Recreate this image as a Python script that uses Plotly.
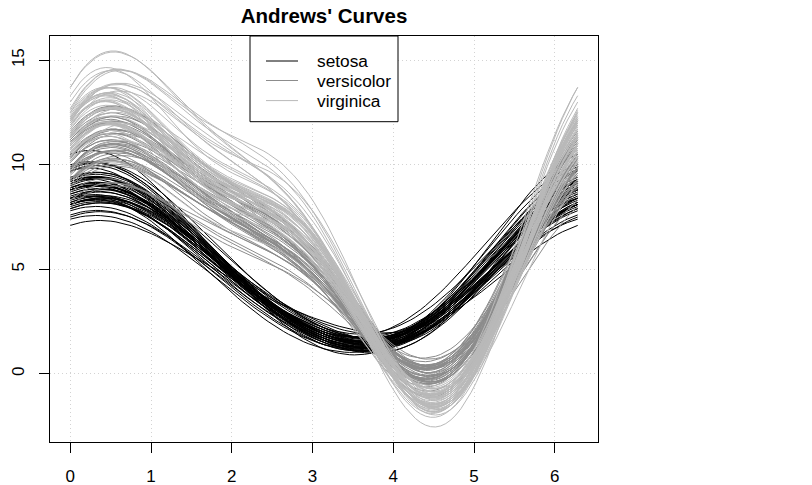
import numpy as np
import plotly.graph_objects as go

# Fisher's iris data (R datasets::iris), columns: Sepal.Length, Sepal.Width, Petal.Length, Petal.Width
sepal_length = [
    5.1, 4.9, 4.7, 4.6, 5.0, 5.4, 4.6, 5.0, 4.4, 4.9, 5.4, 4.8, 4.8, 4.3, 5.8, 5.7, 5.4, 5.1, 5.7, 5.1,
    5.4, 5.1, 4.6, 5.1, 4.8, 5.0, 5.0, 5.2, 5.2, 4.7, 4.8, 5.4, 5.2, 5.5, 4.9, 5.0, 5.5, 4.9, 4.4, 5.1,
    5.0, 4.5, 4.4, 5.0, 5.1, 4.8, 5.1, 4.6, 5.3, 5.0,
    7.0, 6.4, 6.9, 5.5, 6.5, 5.7, 6.3, 4.9, 6.6, 5.2, 5.0, 5.9, 6.0, 6.1, 5.6, 6.7, 5.6, 5.8, 6.2, 5.6,
    5.9, 6.1, 6.3, 6.1, 6.4, 6.6, 6.8, 6.7, 6.0, 5.7, 5.5, 5.5, 5.8, 6.0, 5.4, 6.0, 6.7, 6.3, 5.6, 5.5,
    5.5, 6.1, 5.8, 5.0, 5.6, 5.7, 5.7, 6.2, 5.1, 5.7,
    6.3, 5.8, 7.1, 6.3, 6.5, 7.6, 4.9, 7.3, 6.7, 7.2, 6.5, 6.4, 6.8, 5.7, 5.8, 6.4, 6.5, 7.7, 7.7, 6.0,
    6.9, 5.6, 7.7, 6.3, 6.7, 7.2, 6.2, 6.1, 6.4, 7.2, 7.4, 7.9, 6.4, 6.3, 6.1, 7.7, 6.3, 6.4, 6.0, 6.9,
    6.7, 6.9, 5.8, 6.8, 6.7, 6.7, 6.3, 6.5, 6.2, 5.9,
]
sepal_width = [
    3.5, 3.0, 3.2, 3.1, 3.6, 3.9, 3.4, 3.4, 2.9, 3.1, 3.7, 3.4, 3.0, 3.0, 4.0, 4.4, 3.9, 3.5, 3.8, 3.8,
    3.4, 3.7, 3.6, 3.3, 3.4, 3.0, 3.4, 3.5, 3.4, 3.2, 3.1, 3.4, 4.1, 4.2, 3.1, 3.2, 3.5, 3.6, 3.0, 3.4,
    3.5, 2.3, 3.2, 3.5, 3.8, 3.0, 3.8, 3.2, 3.7, 3.3,
    3.2, 3.2, 3.1, 2.3, 2.8, 2.8, 3.3, 2.4, 2.9, 2.7, 2.0, 3.0, 2.2, 2.9, 2.9, 3.1, 3.0, 2.7, 2.2, 2.5,
    3.2, 2.8, 2.5, 2.8, 2.9, 3.0, 2.8, 3.0, 2.9, 2.6, 2.4, 2.4, 2.7, 2.7, 3.0, 3.4, 3.1, 2.3, 3.0, 2.5,
    2.6, 3.0, 2.6, 2.3, 2.7, 3.0, 2.9, 2.9, 2.5, 2.8,
    3.3, 2.7, 3.0, 2.9, 3.0, 3.0, 2.5, 2.9, 2.5, 3.6, 3.2, 2.7, 3.0, 2.5, 2.8, 3.2, 3.0, 3.8, 2.6, 2.2,
    3.2, 2.8, 2.8, 2.7, 3.3, 3.2, 2.8, 3.0, 2.8, 3.0, 2.8, 3.8, 2.8, 2.8, 2.6, 3.0, 3.4, 3.1, 3.0, 3.1,
    3.1, 3.1, 2.7, 3.2, 3.3, 3.0, 2.5, 3.0, 3.4, 3.0,
]
petal_length = [
    1.4, 1.4, 1.3, 1.5, 1.4, 1.7, 1.4, 1.5, 1.4, 1.5, 1.5, 1.6, 1.4, 1.1, 1.2, 1.5, 1.3, 1.4, 1.7, 1.5,
    1.7, 1.5, 1.0, 1.7, 1.9, 1.6, 1.6, 1.5, 1.4, 1.6, 1.6, 1.5, 1.5, 1.4, 1.5, 1.2, 1.3, 1.4, 1.3, 1.5,
    1.3, 1.3, 1.3, 1.6, 1.9, 1.4, 1.6, 1.4, 1.5, 1.4,
    4.7, 4.5, 4.9, 4.0, 4.6, 4.5, 4.7, 3.3, 4.6, 3.9, 3.5, 4.2, 4.0, 4.7, 3.6, 4.4, 4.5, 4.1, 4.5, 3.9,
    4.8, 4.0, 4.9, 4.7, 4.3, 4.4, 4.8, 5.0, 4.5, 3.5, 3.8, 3.7, 3.9, 5.1, 4.5, 4.5, 4.7, 4.4, 4.1, 4.0,
    4.4, 4.6, 4.0, 3.3, 4.2, 4.2, 4.2, 4.3, 3.0, 4.1,
    6.0, 5.1, 5.9, 5.6, 5.8, 6.6, 4.5, 6.3, 5.8, 6.1, 5.1, 5.3, 5.5, 5.0, 5.1, 5.3, 5.5, 6.7, 6.9, 5.0,
    5.7, 4.9, 6.7, 4.9, 5.7, 6.0, 4.8, 4.9, 5.6, 5.8, 6.1, 6.4, 5.6, 5.1, 5.6, 6.1, 5.6, 5.5, 4.8, 5.4,
    5.6, 5.1, 5.1, 5.9, 5.7, 5.2, 5.0, 5.2, 5.4, 5.1,
]
petal_width = [
    0.2, 0.2, 0.2, 0.2, 0.2, 0.4, 0.3, 0.2, 0.2, 0.1, 0.2, 0.2, 0.1, 0.1, 0.2, 0.4, 0.4, 0.3, 0.3, 0.3,
    0.2, 0.4, 0.2, 0.5, 0.2, 0.2, 0.4, 0.2, 0.2, 0.2, 0.2, 0.4, 0.1, 0.2, 0.2, 0.2, 0.2, 0.1, 0.2, 0.2,
    0.3, 0.3, 0.2, 0.6, 0.4, 0.3, 0.2, 0.2, 0.2, 0.2,
    1.4, 1.5, 1.5, 1.3, 1.5, 1.3, 1.6, 1.0, 1.3, 1.4, 1.0, 1.5, 1.0, 1.4, 1.3, 1.4, 1.5, 1.0, 1.5, 1.1,
    1.8, 1.3, 1.5, 1.2, 1.3, 1.4, 1.4, 1.7, 1.5, 1.0, 1.1, 1.0, 1.2, 1.6, 1.5, 1.6, 1.5, 1.3, 1.3, 1.3,
    1.2, 1.4, 1.2, 1.0, 1.3, 1.2, 1.3, 1.3, 1.1, 1.3,
    2.5, 1.9, 2.1, 1.8, 2.2, 2.1, 1.7, 1.8, 1.8, 2.5, 2.0, 1.9, 2.1, 2.0, 2.4, 2.3, 1.8, 2.2, 2.3, 1.5,
    2.3, 2.0, 2.0, 1.8, 2.1, 1.8, 1.8, 1.8, 2.1, 1.6, 1.9, 2.0, 2.2, 1.5, 1.4, 2.3, 2.4, 1.8, 1.8, 2.1,
    2.4, 2.3, 1.9, 2.3, 2.5, 2.3, 1.9, 2.0, 2.3, 1.8,
]
species = ["setosa"] * 50 + ["versicolor"] * 50 + ["virginica"] * 50
species_names = ["setosa", "versicolor", "virginica"]
species_colors = {"setosa": "#000000", "versicolor": "#8c8c8c", "virginica": "#b9b9b9"}

# Andrews' curves (pracma::andrewsplot style): x1 + x2 cos t + x3 sin t + x4 cos 2t
A = np.column_stack([sepal_length, sepal_width, petal_length, petal_width])
tpts = np.linspace(0, 2 * np.pi, 101)
Y = np.zeros((A.shape[0], tpts.size))
for i in range(A.shape[0]):
    ys = A[i, 0] * np.ones_like(tpts)
    for j in range(2, A.shape[1] + 1):
        k = j // 2
        if j % 2 == 0:
            ys = ys + A[i, j - 1] * np.cos(k * tpts)
        else:
            ys = ys + A[i, j - 1] * np.sin(k * tpts)
    Y[i] = ys

ymin, ymax = Y.min(), Y.max()
ypad = 0.04 * (ymax - ymin)
xpad = 0.04 * (2 * np.pi)

FONT = "Liberation Sans, Arial, Helvetica, sans-serif"
W, H = 812, 485
# plot area in pixels
PL, PT, PW, PH = 50, 36, 548, 406


def px_x(x):
    return (x - PL) / PW


def px_y(y):
    return 1 - (y - PT) / PH


fig = go.Figure()
for i in range(A.shape[0]):
    sp = species[i]
    fig.add_trace(go.Scatter(
        x=tpts, y=Y[i], mode="lines",
        line=dict(color=species_colors[sp], width=1),
        name=sp, showlegend=False, hoverinfo="skip",
    ))

# legend box in R style (top, white background)
shapes = [dict(type="rect", xref="paper", yref="paper",
               x0=px_x(250), x1=px_x(398), y0=px_y(121.7), y1=px_y(36),
               line=dict(color="black", width=1), fillcolor="white", layer="above")]
annotations = []
row_y = [61, 80.5, 100.6]
for sp, ry in zip(species_names, row_y):
    shapes.append(dict(type="line", xref="paper", yref="paper",
                       x0=px_x(266), x1=px_x(298), y0=px_y(ry), y1=px_y(ry),
                       line=dict(color=species_colors[sp], width=1), layer="above"))
    annotations.append(dict(text=sp, xref="paper", yref="paper", x=px_x(315), y=px_y(ry),
                            xanchor="left", yanchor="middle", showarrow=False,
                            font=dict(size=17.3, family=FONT, color="black")))

fig.update_layout(
    template="none",
    width=W, height=H,
    margin=dict(l=PL, r=W - PL - PW, t=PT, b=H - PT - PH, autoexpand=False),
    paper_bgcolor="white", plot_bgcolor="white",
    font=dict(family=FONT, size=17, color="black"),
    title=dict(text="<b>Andrews' Curves</b>", x=0.5, xref="paper",
               y=1 - 15.7 / H, yref="container", yanchor="middle", xanchor="center",
               font=dict(size=20.5, family=FONT, color="black")),
    showlegend=False,
    shapes=shapes,
    annotations=annotations,
)
fig.update_xaxes(range=[-xpad, 2 * np.pi + xpad], tickvals=[0, 1, 2, 3, 4, 5, 6],
                 automargin=False,
                 showline=True, mirror=True, linecolor="black", linewidth=1,
                 ticks="outside", ticklen=10, tickcolor="black",
                 showgrid=True, gridcolor="#d3d3d3", griddash="1px,3px", zeroline=False,
                 ticklabelstandoff=9)
fig.update_yaxes(range=[ymin - ypad, ymax + ypad], tickvals=[0, 5, 10, 15], tickangle=-90,
                 automargin=False,
                 showline=True, mirror=True, linecolor="black", linewidth=1,
                 ticks="outside", ticklen=10, tickcolor="black",
                 showgrid=True, gridcolor="#d3d3d3", griddash="1px,3px", zeroline=False,
                 ticklabelstandoff=8)

fig.write_html("out.html", config={"displayModeBar": False},
               post_script="document.body.style.margin='0px';")
